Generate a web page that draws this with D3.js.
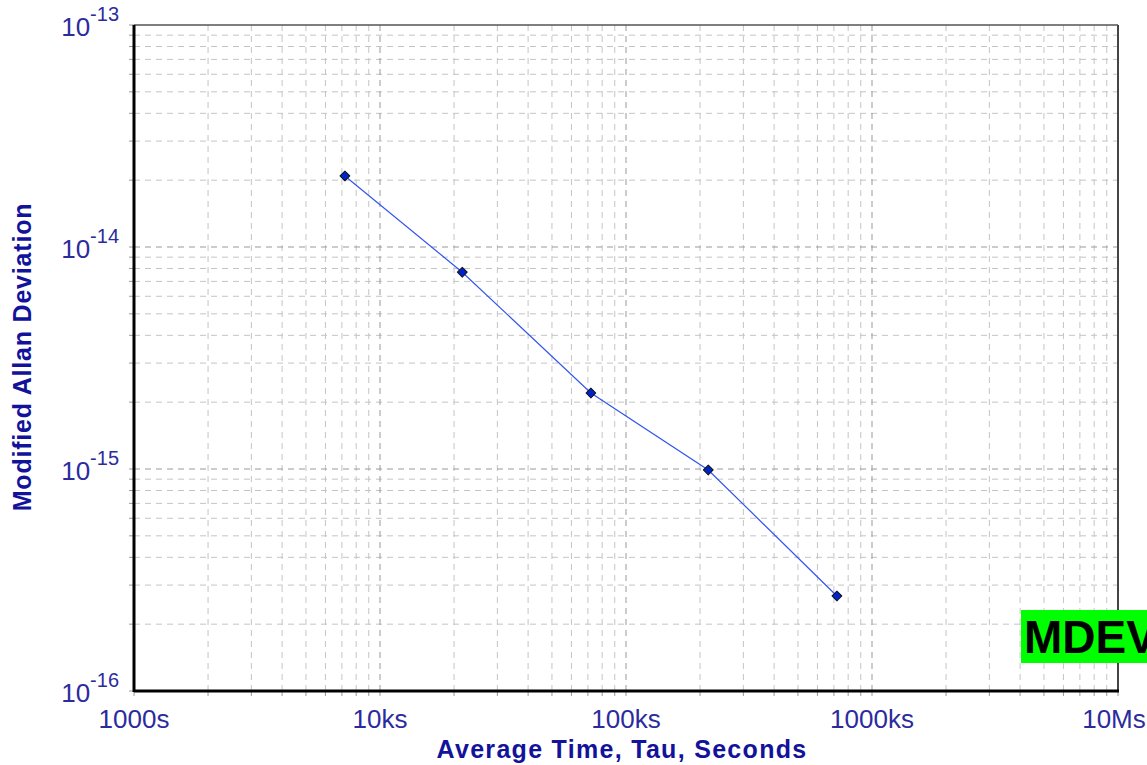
<!DOCTYPE html>
<html>
<head>
<meta charset="utf-8">
<script src="https://cdn.jsdelivr.net/npm/d3@7"></script>
<style>
  body { margin: 0; background: #fff; }
  text { font-family: Arial, "Liberation Sans", sans-serif; }
</style>
</head>
<body>
<svg id="chart" width="1147" height="765"></svg>
<script>
// data
const tau = [7200, 21600, 72000, 216000, 720000];
const mdev = [2.09e-14, 7.7e-15, 2.2e-15, 9.9e-16, 2.68e-16];
const xTicks = [1e3, 1e4, 1e5, 1e6, 1e7];
const xTickLabels = ["1000s", "10ks", "100ks", "1000ks", "10Ms"];
const yExponents = [-13, -14, -15, -16];

const svg = d3.select("#chart");
const pLeft = 134, pRight = 1118, pTop = 25, pBottom = 691;
const tickColor = "#2b2b9e";
const titleColor = "#12129a";

const x = d3.scaleLog().domain([1e3, 1e7]).range([pLeft, pRight]);
const y = d3.scaleLog().domain([1e-16, 1e-13]).range([pBottom, pTop]);

// minor + major positions
const xMinor = [], yMinor = [];
for (let d = 3; d < 7; d++) for (let m = 2; m <= 9; m++) xMinor.push(m * Math.pow(10, d));
for (let d = -16; d < -13; d++) for (let m = 2; m <= 9; m++) yMinor.push(m * Math.pow(10, d));

const grid = svg.append("g");
// minor grid
grid.selectAll(".vmin").data(xMinor).enter().append("line")
  .attr("x1", d => x(d)).attr("x2", d => x(d))
  .attr("y1", pTop).attr("y2", pBottom)
  .attr("stroke", "#c4c4c4").attr("stroke-dasharray", "6,5");
grid.selectAll(".hmin").data(yMinor).enter().append("line")
  .attr("x1", pLeft).attr("x2", pRight)
  .attr("y1", d => y(d)).attr("y2", d => y(d))
  .attr("stroke", "#c4c4c4").attr("stroke-dasharray", "6,5");
// major grid
grid.selectAll(".vmaj").data(xTicks.slice(1, -1)).enter().append("line")
  .attr("x1", d => x(d)).attr("x2", d => x(d))
  .attr("y1", pTop).attr("y2", pBottom)
  .attr("stroke", "#999").attr("stroke-dasharray", "6,5");
grid.selectAll(".hmaj").data(yExponents.slice(1, -1)).enter().append("line")
  .attr("x1", pLeft).attr("x2", pRight)
  .attr("y1", d => y(Math.pow(10, d))).attr("y2", d => y(Math.pow(10, d)))
  .attr("stroke", "#999").attr("stroke-dasharray", "6,5");

// small tick marks outside the axes
svg.append("g").selectAll("line").data(xMinor.concat(xTicks)).enter().append("line")
  .attr("x1", d => x(d)).attr("x2", d => x(d))
  .attr("y1", pBottom).attr("y2", pBottom + 5)
  .attr("stroke", "#999");
svg.append("g").selectAll("line").data(yMinor.concat(yExponents.map(e => Math.pow(10, e)))).enter().append("line")
  .attr("x1", pLeft - 5).attr("x2", pLeft)
  .attr("y1", d => y(d)).attr("y2", d => y(d))
  .attr("stroke", "#999");

// frame
svg.append("line").attr("x1", pLeft).attr("x2", pRight).attr("y1", pTop).attr("y2", pTop)
  .attr("stroke", "#555").attr("stroke-width", 1.5);
svg.append("line").attr("x1", pRight).attr("x2", pRight).attr("y1", pTop).attr("y2", pBottom)
  .attr("stroke", "#444").attr("stroke-width", 2);
svg.append("line").attr("x1", pLeft).attr("x2", pLeft).attr("y1", pTop).attr("y2", pBottom + 1)
  .attr("stroke", "#000").attr("stroke-width", 3);
svg.append("line").attr("x1", pLeft).attr("x2", pRight + 1).attr("y1", pBottom).attr("y2", pBottom)
  .attr("stroke", "#000").attr("stroke-width", 3);

// x tick labels (last one nudged so it stays on the page)
svg.append("g").selectAll("text").data(xTicks).enter().append("text")
  .attr("x", (d, i) => i === xTicks.length - 1 ? x(d) - 4 : x(d)).attr("y", 728)
  .attr("text-anchor", "middle")
  .attr("font-size", 26).attr("fill", tickColor)
  .text((d, i) => xTickLabels[i]);

// y tick labels 10^n
const yl = svg.append("g").selectAll("text").data(yExponents).enter().append("text")
  .attr("x", 119).attr("y", d => y(Math.pow(10, d)) + 10.5)
  .attr("text-anchor", "end")
  .attr("fill", tickColor);
yl.append("tspan").attr("font-size", 26).text("10");
yl.append("tspan").attr("font-size", 20).attr("dy", -15).text(d => "-" + Math.abs(d));

// axis titles
svg.append("text").attr("x", 622).attr("y", 758)
  .attr("text-anchor", "middle").attr("font-size", 25).attr("font-weight", "bold")
  .attr("letter-spacing", 1.3)
  .attr("fill", titleColor).text("Average Time, Tau, Seconds");
svg.append("text").attr("transform", "translate(31,357) rotate(-90)")
  .attr("text-anchor", "middle").attr("font-size", 25).attr("font-weight", "bold")
  .attr("letter-spacing", 0.8)
  .attr("fill", titleColor).text("Modified Allan Deviation");

// data line and markers
const pts = tau.map((t, i) => [t, mdev[i]]);
svg.append("path").datum(pts)
  .attr("d", d3.line().x(d => x(d[0])).y(d => y(d[1])))
  .attr("fill", "none").attr("stroke", "#3355ee").attr("stroke-width", 1.2);
svg.append("g").selectAll("path").data(pts).enter().append("path")
  .attr("transform", d => `translate(${x(d[0])},${y(d[1])}) rotate(45)`)
  .attr("d", d3.symbol().type(d3.symbolSquare).size(48))
  .attr("fill", "#0022cc").attr("stroke", "#111").attr("stroke-width", 1)
  .attr("stroke-linejoin", "round");

// MDEV label box
svg.append("rect").attr("x", 1021).attr("y", 610).attr("width", 140).attr("height", 53)
  .attr("fill", "#00ff00");
svg.append("text").attr("x", 1024).attr("y", 653)
  .attr("font-size", 46).attr("font-weight", "bold").attr("fill", "#000")
  .text("MDEV");
</script>
</body>
</html>
